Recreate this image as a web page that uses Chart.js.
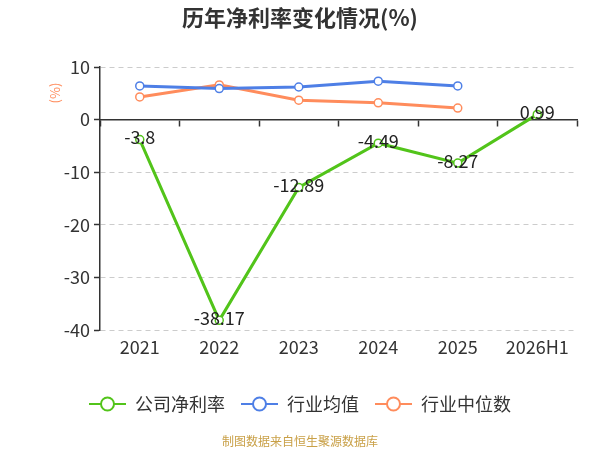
<!DOCTYPE html>
<html>
<head>
<meta charset="utf-8">
<script src="https://cdn.jsdelivr.net/npm/chart.js@4/dist/chart.umd.min.js"></script>
<style>
  html, body { margin: 0; padding: 0; background: #fff; }
  #box { width: 600px; height: 450px; }
</style>
</head>
<body>
<div id="box"><canvas id="grafico"></canvas></div>
<script>
// dados do gráfico
const anos = ['2021', '2022', '2023', '2024', '2025', '2026H1'];
const margemEmpresa = [-3.8, -38.17, -12.89, -4.49, -8.27, 0.99];
const mediaSetor = [6.4, 5.9, 6.2, 7.3, 6.4, null];
const medianaSetor = [4.3, 6.6, 3.7, 3.2, 2.2, null];
const ticksY = [10, 0, -10, -20, -30, -40];

const verde = '#52c41a';
const azul = '#4e7fe6';
const laranja = '#ff8c5c';
const fonteCn = '"Noto Sans CJK SC", "Noto Sans", sans-serif';

// icone da legenda: linha com circulo vazado
function iconeLegenda(cor) {
  const c = document.createElement('canvas');
  c.width = 37;
  c.height = 16;
  const ctx = c.getContext('2d');
  ctx.strokeStyle = cor;
  ctx.lineWidth = 2;
  ctx.beginPath();
  ctx.moveTo(0, 8);
  ctx.lineTo(37, 8);
  ctx.stroke();
  ctx.beginPath();
  ctx.arc(18.5, 8, 6.5, 0, Math.PI * 2);
  ctx.fillStyle = '#fff';
  ctx.fill();
  ctx.stroke();
  return c;
}

const icones = [iconeLegenda(verde), iconeLegenda(azul), iconeLegenda(laranja)];

const rotulosPlugin = {
  id: 'rotulos',
  afterDatasetsDraw(chart) {
    const ctx = chart.ctx;
    const meta = chart.getDatasetMeta(0);
    ctx.save();
    ctx.font = '18px ' + fonteCn;
    ctx.fillStyle = '#222';
    ctx.textAlign = 'center';
    ctx.textBaseline = 'middle';
    meta.data.forEach((pt, i) => {
      ctx.fillText(String(margemEmpresa[i]), pt.x, pt.y - 2);
    });
    ctx.restore();
  },
  afterDraw(chart) {
    const ctx = chart.ctx;
    ctx.save();
    // titulo do eixo y
    ctx.translate(55, 93);
    ctx.rotate(-Math.PI / 2);
    ctx.font = '13px ' + fonteCn;
    ctx.fillStyle = laranja;
    ctx.textAlign = 'center';
    ctx.textBaseline = 'middle';
    ctx.fillText('(%)', 0, 0);
    ctx.restore();
    // fonte dos dados
    ctx.save();
    ctx.font = '12px ' + fonteCn;
    ctx.fillStyle = '#c9a047';
    ctx.textAlign = 'center';
    ctx.textBaseline = 'middle';
    ctx.fillText('制图数据来自恒生聚源数据库', 300, 441);
    ctx.restore();
  }
};

const pontos = {
  pointRadius: 4,
  pointHoverRadius: 4,
  pointBackgroundColor: '#fff',
  pointBorderWidth: 1.5,
  borderWidth: 3,
  tension: 0,
  spanGaps: false
};

new Chart(document.getElementById('grafico'), {
  type: 'line',
  data: {
    labels: anos,
    datasets: [
      Object.assign({ label: '公司净利率', data: margemEmpresa, borderColor: verde, pointBorderColor: verde }, pontos),
      Object.assign({ label: '行业均值', data: mediaSetor, borderColor: azul, pointBorderColor: azul }, pontos),
      Object.assign({ label: '行业中位数', data: medianaSetor, borderColor: laranja, pointBorderColor: laranja }, pontos)
    ]
  },
  plugins: [rotulosPlugin],
  options: {
    responsive: true,
    maintainAspectRatio: false,
    animation: false,
    layout: { padding: { left: 0, right: 0, top: 0, bottom: 27 } },
    plugins: {
      tooltip: { enabled: false },
      title: {
        display: true,
        text: '历年净利率变化情况(%)',
        color: '#333',
        font: { family: fonteCn, size: 22, weight: 'bold' },
        padding: { top: 4, bottom: 36.6 }
      },
      legend: {
        position: 'bottom',
        labels: {
          usePointStyle: true,
          pointStyleWidth: 37,
          boxHeight: 16,
          padding: 16,
          color: '#333',
          font: { family: fonteCn, size: 18 },
          generateLabels(chart) {
            const itens = Chart.defaults.plugins.legend.labels.generateLabels(chart);
            itens.forEach((it, i) => { it.pointStyle = icones[i]; });
            return itens;
          }
        }
      }
    },
    scales: {
      x: {
        position: 'bottom',
        offset: true,
        grid: { display: false, drawTicks: false },
        border: { display: false },
        ticks: {
          color: '#333',
          padding: 6,
          font: { family: fonteCn, size: 18 }
        },
        afterFit(scale) { scale.height = 49; }
      },
      x0: {
        type: 'category',
        position: { y: 0 },
        offset: true,
        grid: {
          display: true,
          offset: true,
          drawOnChartArea: false,
          drawTicks: true,
          tickLength: 6,
          tickColor: '#333',
          tickWidth: 1.5
        },
        border: { display: true, color: '#333', width: 1.5 },
        ticks: { display: false }
      },
      y: {
        min: -40,
        max: 10,
        afterBuildTicks(scale) {
          scale.ticks = ticksY.map(v => ({ value: v }));
        },
        afterFit(scale) { scale.width = 100; },
        grid: {
          color: '#ccc',
          lineWidth: 1,
          tickColor: '#333',
          tickLength: 6,
          tickWidth: 1.5
        },
        border: { display: true, color: '#333', width: 1.5, dash: [5, 4] },
        ticks: {
          color: '#333',
          padding: 4,
          font: { family: fonteCn, size: 18 }
        }
      },
      // margem direita vazia
      yDir: {
        position: 'right',
        grid: { display: false, drawTicks: false },
        border: { display: false },
        ticks: { display: false },
        afterFit(scale) { scale.width = 23; }
      }
    }
  }
});
</script>
</body>
</html>
